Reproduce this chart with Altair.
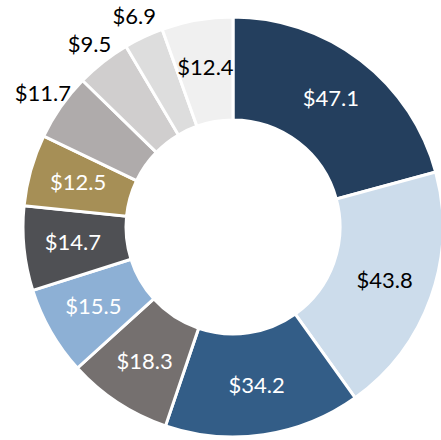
import altair as alt
import pandas as pd

segments = ["S1", "S2", "S3", "S4", "S5", "S6", "S7", "S8", "S9", "S10", "S11"]
values = [47.1, 43.8, 34.2, 18.3, 15.5, 14.7, 12.5, 11.7, 9.5, 6.9, 12.4]
colors = ["#243F5E", "#CCDCEB", "#335D87", "#75706F", "#8DB0D5", "#4F5054",
          "#A68F56", "#AFABAB", "#D0CECE", "#DDDDDD", "#F0F0F0"]
dark_text_segments = ["S2", "S11"]

df = pd.DataFrame({"segment": segments, "value": values, "idx": list(range(len(values)))})

cx, cy = 233, 227

arcs = alt.Chart(df).mark_arc(outerRadius=210, innerRadius=107, stroke="white", strokeWidth=3).encode(
    theta=alt.Theta("value:Q", stack=True),
    order=alt.Order("idx:Q", sort="ascending"),
    x=alt.value(cx), y=alt.value(cy),
    color=alt.Color("segment:N", scale=alt.Scale(domain=segments, range=colors), legend=None),
)

dark_list = "[" + ",".join('"%s"' % s for s in dark_text_segments) + "]"
labels = alt.Chart(df).mark_text(font="Lato", fontSize=22).transform_window(
    cum="sum(value)", sort=[alt.SortField("idx", order="ascending")], frame=[None, 0]
).transform_joinaggregate(
    total="sum(value)"
).transform_calculate(
    mid="(datum.cum - datum.value / 2) / datum.total * 2 * PI",
    label="'$' + format(datum.value, '.1f')",
    r="datum.value < 12 ? 232 : 161",
    tc="(datum.value < 12 || indexof(" + dark_list + ", datum.segment) >= 0) ? 'black' : 'white'",
).encode(
    theta=alt.Theta("mid:Q", scale=None, stack=None),
    x=alt.value(cx), y=alt.value(cy),
    text="label:N",
    radius=alt.Radius("r:Q", scale=None),
    color=alt.Color("tc:N", scale=None),
)

chart = alt.layer(arcs, labels).properties(
    width=441, height=440, padding=0, autosize=alt.AutoSizeParams(type="none")
).configure_view(stroke=None)

chart.save("out.html", embed_options={"renderer": "svg", "actions": False})
